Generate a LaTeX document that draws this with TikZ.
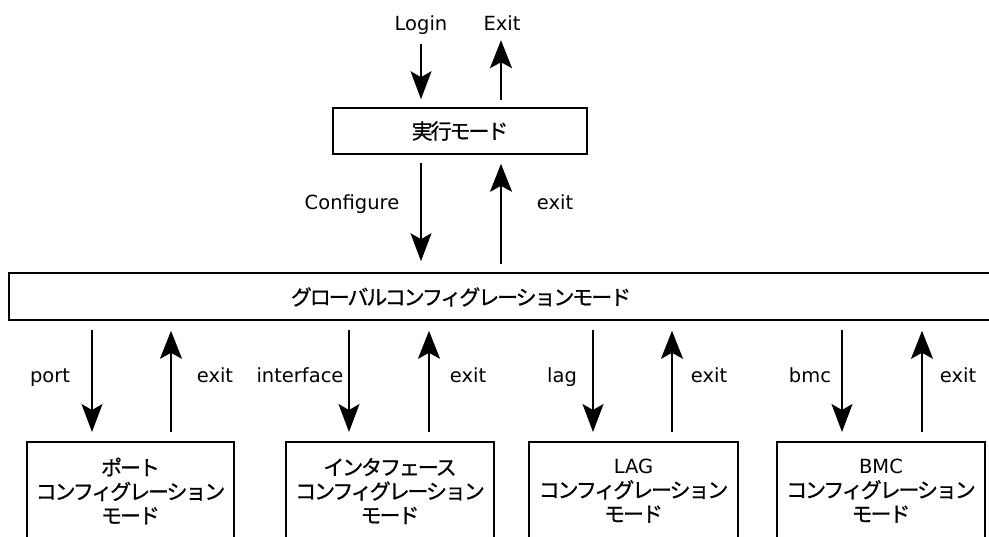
\documentclass[tikz,border=0pt]{standalone}
\usepackage{fontspec}
\setmainfont{DejaVu Sans}
\newfontfamily\jp[FakeBold=0.8,LetterSpace=-10]{Noto Sans CJK JP}
\newcommand{\lat}[1]{{\rmfamily\fontsize{19.5}{24}\selectfont #1}}
\usetikzlibrary{arrows.meta}
\tikzset{
  box/.style={draw=black, line width=1.6pt, fill=white, inner sep=0pt},
  lbl/.style={inner sep=0pt, anchor=base, font=\fontsize{19.5}{22}\selectfont},
  jtxt/.style={inner sep=0pt, align=center, font=\fontsize{21}{24}\selectfont\jp},
  dn/.style={line width=1.5pt, -{Stealth[length=28pt,width=21pt,inset=6pt]}},
  up/.style={line width=2pt, -{Stealth[length=28pt,width=22pt,inset=6pt]}},
}
\begin{document}
\begin{tikzpicture}[x=1pt,y=-1pt]
\useasboundingbox (0,0) rectangle (989,537);
\fill[white] (0,0) rectangle (989,537);
\clip (0,0) rectangle (989,537);

% x positions of connectors
\coordinate (xa) at (421,0);
\coordinate (xb) at (501,0);
\coordinate (p1) at (92,0);   \coordinate (q1) at (171,0);
\coordinate (p2) at (349,0);  \coordinate (q2) at (429,0);
\coordinate (p3) at (593,0);  \coordinate (q3) at (672,0);
\coordinate (p4) at (842,0);  \coordinate (q4) at (922,0);

% labels at the top
\node[lbl] (login) at (421,31) {Login};
\node[lbl] (exitt) at (502,31) {Exit};

% exec mode box
\node[box, minimum width=254pt, minimum height=46pt] (top) at (460,131) {};
\node[jtxt] (toptxt) at (460,131) {実行モード};

% global config box
\node[box, minimum width=1100pt, minimum height=47pt, anchor=west] (glob) at (8,296.5) {};
\node[jtxt] (globtxt) at (461,297) {グローバルコンフィグレーションモード};

\node[lbl] (conf) at (352,210) {Configure};
\node[lbl] (ex0) at (555,210) {exit};

% bottom boxes
\node[box, minimum width=207pt, minimum height=140pt, anchor=north] (b1) at (130.5,441) {};
\node[box, minimum width=208pt, minimum height=140pt, anchor=north] (b2) at (390,441) {};
\node[box, minimum width=209pt, minimum height=140pt, anchor=north] (b3) at (633.5,441) {};
\node[box, minimum width=208pt, minimum height=140pt, anchor=north] (b4) at (881,441) {};
\node[jtxt] (t1) at (130.5,491) {ポート\\コンフィグレーション\\モード};
\node[jtxt] (t2) at (390,491) {インタフェース\\コンフィグレーション\\モード};
\node[jtxt] (t3) at (633.5,491) {\lat{LAG}\\コンフィグレーション\\モード};
\node[jtxt] (t4) at (881,491) {\lat{BMC}\\コンフィグレーション\\モード};

% bottom labels
\node[lbl] (l1) at (50,383) {port};
\node[lbl] (e1) at (215,383) {exit};
\node[lbl] (l2) at (300,383) {interface};
\node[lbl] (e2) at (468,383) {exit};
\node[lbl] (l3) at (562,383) {lag};
\node[lbl] (e3) at (709,383) {exit};
\node[lbl] (l4) at (810,383) {bmc};
\node[lbl] (e4) at (958,383) {exit};

% connectors top
\draw[dn] ([yshift=-9pt]login.south) -- ([yshift=8pt]top.north -| xa);
\draw[up] ([yshift=7pt]top.north -| xb) -- ([yshift=-9pt]exitt.south -| xb);
\draw[dn] ([yshift=-8pt]top.south -| xa) -- ([yshift=11pt]glob.north -| xa);
\draw[up] ([yshift=8pt]glob.north -| xb) -- ([yshift=-9pt]top.south -| xb);

% connectors bottom
\foreach \p/\q/\b in {p1/q1/b1, p2/q2/b2, p3/q3/b3, p4/q4/b4}{
  \draw[dn] ([yshift=-9pt]glob.south -| \p) -- ([yshift=9pt]\b.north -| \p);
  \draw[up] ([yshift=9pt]\b.north -| \q) -- ([yshift=-10pt]glob.south -| \q);
}
\end{tikzpicture}
\end{document}
